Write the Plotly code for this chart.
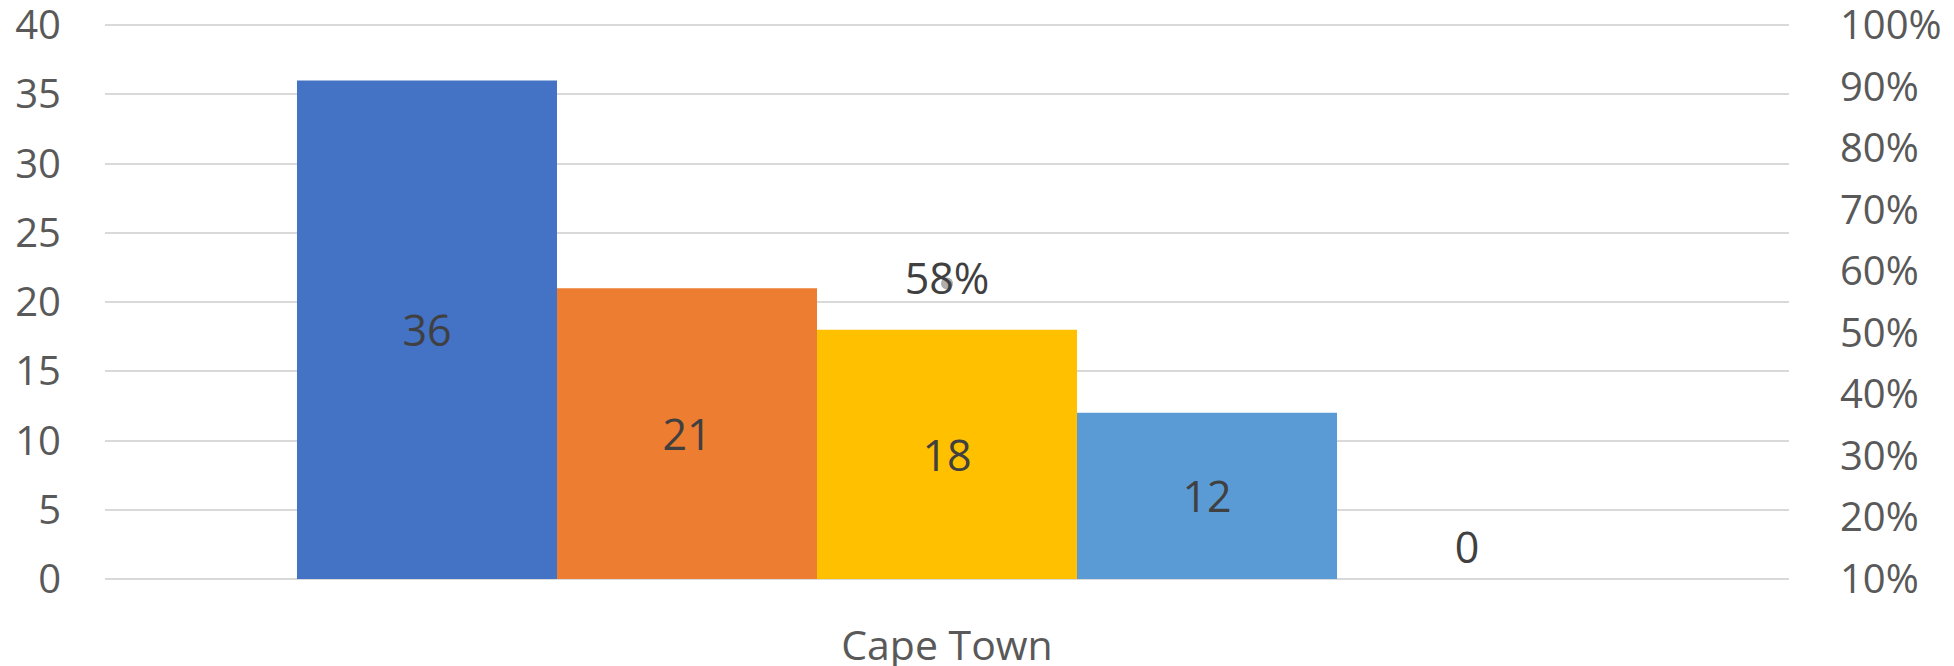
import plotly.graph_objects as go

# data
category = ["Cape Town"]
series_names = ["Series A", "Series B", "Series C", "Series D", "Series E"]
series_values = [36, 21, 18, 12, 0]
series_colors = ["#4472C4", "#ED7D31", "#FFC000", "#5B9BD5", "#70AD47"]
share_value = [0.58]
left_ticks = [0, 5, 10, 15, 20, 25, 30, 35, 40]
right_ticks = [0.1, 0.2, 0.3, 0.4, 0.5, 0.6, 0.7, 0.8, 0.9, 1.0]

FONT = "Open Sans"

fig = go.Figure()
for name, val, col in zip(series_names, series_values, series_colors):
    fig.add_trace(go.Bar(
        x=category, y=[val], name=name,
        marker_color=col, marker_line_width=0,
        text=[str(val)],
        textposition="inside" if val > 0 else "outside",
        insidetextanchor="middle",
        textfont=dict(family=FONT, size=43, color="#404040"),
        cliponaxis=False,
    ))

# percentage series on the right-hand axis
fig.add_trace(go.Scatter(
    x=category, y=share_value, yaxis="y2", name="Share",
    mode="markers+text",
    marker=dict(color="rgba(140,140,140,0.7)", size=12),
    text=[f"{v:.0%}" for v in share_value],
    textposition="middle center",
    textfont=dict(family=FONT, size=43, color="#404040"),
))

# a little headroom above the top tick so its gridline is not clipped
top_pad = 557.5 / 554.5

fig.update_layout(
    width=1954, height=666,
    margin=dict(l=97, r=173, t=14, b=94.5),
    paper_bgcolor="white", plot_bgcolor="white",
    barmode="group", bargap=0.228, bargroupgap=0,
    showlegend=False,
    font=dict(family=FONT, size=40, color="#595959"),
    xaxis=dict(showgrid=False, showline=False, ticks="", ticklabelstandoff=39,
               automargin=False, tickfont=dict(size=41, color="#595959")),
    yaxis=dict(range=[0, 40 * top_pad], tickvals=left_ticks,
               showgrid=True, gridcolor="#D9D9D9", gridwidth=2,
               zeroline=True, zerolinecolor="#D9D9D9", zerolinewidth=2,
               showline=False, ticks="", ticklabelstandoff=43,
               ticklabeloverflow="allow", automargin=False),
    yaxis2=dict(range=[0.1, 0.1 + 0.9 * top_pad], tickvals=right_ticks,
                tickformat=".0%", overlaying="y", side="right",
                showgrid=False, zeroline=False, showline=False, ticks="",
                ticklabelstandoff=50, ticklabeloverflow="allow", automargin=False),
)

fig.write_html("out.html")
